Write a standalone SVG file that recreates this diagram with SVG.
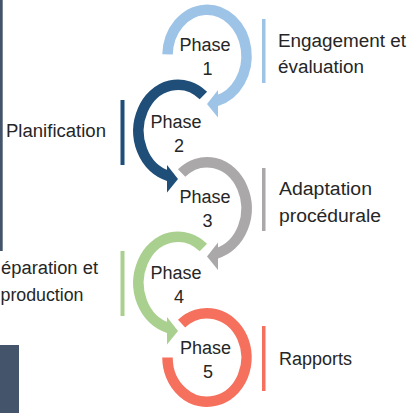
<svg xmlns="http://www.w3.org/2000/svg" width="409" height="413" viewBox="0 0 409 413">
<defs>
<style>
.ph{font-family:"Liberation Sans",Arial,sans-serif;font-size:18px;fill:#262626;text-anchor:middle}
.lb{font-family:"Liberation Sans",Arial,sans-serif;font-size:18px;fill:#262626}
.arc{fill:none;stroke-width:10.5;vector-effect:non-scaling-stroke}
.s1{stroke:#9DC3E6}.f1{fill:#9DC3E6}
.s2{stroke:#1F4E79}.f2{fill:#1F4E79}
.s3{stroke:#AAA8A8}.f3{fill:#AAA8A8}
.s4{stroke:#A9D08E}.f4{fill:#A9D08E}
.s5{stroke:#F6705E}.f5{fill:#F6705E}
.side{fill:#44546A}
</style>
</defs>
<rect x="0" y="0" width="409" height="413" fill="#FFFFFF"/>
<rect class="side" x="0" y="0" width="2.7" height="251"/>
<rect class="side" x="0" y="345" width="19" height="68"/>

<g id="phase1">
  <g transform="translate(207 56) scale(1 1.17)">
    <path class="arc s1" d="M-39.476 -1.379 A39.5 39.5 0 1 1 9.556 38.327"/>
    <path class="f1" d="M0 41 L11 29 L11 52.5 Z"/>
  </g>
  <text class="ph" x="205" y="50.5">Phase</text>
  <text class="ph" x="207.5" y="75">1</text>
  <rect class="f1" x="262" y="19" width="3.5" height="64"/>
  <text class="lb" x="278" y="46.5" textLength="128" lengthAdjust="spacingAndGlyphs">Engagement et</text>
  <text class="lb" x="278" y="72.5" textLength="86" lengthAdjust="spacingAndGlyphs">évaluation</text>
</g>

<g id="phase2">
  <g transform="translate(178 131) scale(1 1.17)">
    <path class="arc s2" d="M25.390 -30.259 A39.5 39.5 0 1 0 -9.556 38.327"/>
    <path class="f2" d="M0 41 L-11 29 L-11 52.5 Z"/>
  </g>
  <text class="ph" x="176" y="128.3">Phase</text>
  <text class="ph" x="179" y="152">2</text>
  <rect class="f2" x="120.5" y="100" width="4" height="65"/>
  <text class="lb" x="6" y="136.7" textLength="100" lengthAdjust="spacingAndGlyphs">Planification</text>
</g>

<g id="phase3">
  <g transform="translate(207 208.5) scale(1 1.17)">
    <path class="arc s3" d="M-25.390 -30.259 A39.5 39.5 0 1 1 9.556 38.327"/>
    <path class="f3" d="M0 41 L11 29 L11 52.5 Z"/>
  </g>
  <text class="ph" x="205" y="203">Phase</text>
  <text class="ph" x="207.5" y="227">3</text>
  <rect class="f3" x="262" y="168" width="3.5" height="63"/>
  <text class="lb" x="279" y="195" textLength="93" lengthAdjust="spacingAndGlyphs">Adaptation</text>
  <text class="lb" x="279" y="222" textLength="102" lengthAdjust="spacingAndGlyphs">procédurale</text>
</g>

<g id="phase4">
  <g transform="translate(178 283) scale(1 1.17)">
    <path class="arc s4" d="M25.390 -30.259 A39.5 39.5 0 1 0 -9.556 38.327"/>
    <path class="f4" d="M0 41 L-11 29 L-11 52.5 Z"/>
  </g>
  <text class="ph" x="176" y="279">Phase</text>
  <text class="ph" x="179" y="303">4</text>
  <rect class="f4" x="120.5" y="251" width="4" height="65"/>
  <text class="lb" x="1" y="274.3" textLength="97" lengthAdjust="spacingAndGlyphs">éparation et</text>
  <text class="lb" x="0.5" y="301" textLength="83" lengthAdjust="spacingAndGlyphs">production</text>
</g>

<g id="phase5">
  <g transform="translate(207 357.5) scale(1 1.12)">
    <path class="arc s5" d="M-25.390 -30.259 A39.5 39.5 0 1 1 -39.5 0"/>
  </g>
  <text class="ph" x="205.5" y="354">Phase</text>
  <text class="ph" x="208" y="378">5</text>
  <rect class="f5" x="262" y="326" width="3.5" height="65"/>
  <text class="lb" x="279" y="365.3" textLength="73" lengthAdjust="spacingAndGlyphs">Rapports</text>
</g>

<g id="connectors"></g>
</svg>
